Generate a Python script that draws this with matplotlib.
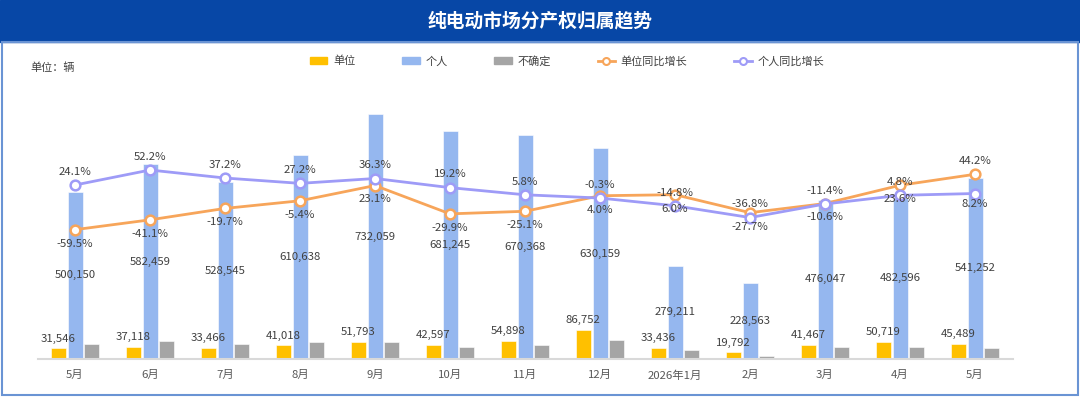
import matplotlib.pyplot as plt
import numpy as np
from matplotlib.patches import Rectangle, Patch
from matplotlib.lines import Line2D

plt.rcParams['font.family'] = ['Noto Sans CJK SC', 'DejaVu Sans']

# data
months = ['5月', '6月', '7月', '8月', '9月', '10月', '11月', '12月', '2026年1月', '2月', '3月', '4月', '5月']
unit = [31546, 37118, 33466, 41018, 51793, 42597, 54898, 86752, 33436, 19792, 41467, 50719, 45489]
personal = [500150, 582459, 528545, 610638, 732059, 681245, 670368, 630159, 279211, 228563, 476047, 482596, 541252]
uncertain = [44000, 54000, 45000, 50000, 52000, 37000, 42000, 57000, 28000, 9000, 37000, 36000, 34000]
unit_yoy = [-59.5, -41.1, -19.7, -5.4, 23.1, -29.9, -25.1, 4.0, 6.0, -27.7, -10.6, 23.6, 44.2]
personal_yoy = [24.1, 52.2, 37.2, 27.2, 36.3, 19.2, 5.8, -0.3, -14.8, -36.8, -11.4, 4.8, 8.2]

c_unit = '#FFC000'
c_pers = '#95B7EF'
c_unc = '#A5A5A5'
c_uyoy = '#F7A55A'
c_pyoy = '#9E9BF7'
txt = '#404040'

fig = plt.figure(figsize=(10.8, 3.97), dpi=100)

# header band and frame
fig.patches.append(Rectangle((0, 1 - 42 / 397), 1, 42 / 397, transform=fig.transFigure,
                             color='#0747A6', zorder=0))
fig.patches.append(Rectangle((1.5 / 1080, 2 / 397), 1076 / 1080, 353 / 397, transform=fig.transFigure,
                             fill=False, edgecolor='#6A94D4', linewidth=1.5, zorder=0))
fig.text(0.5, 1 - 21 / 397, '纯电动市场分产权归属趋势', ha='center', va='center',
         color='white', fontsize=13.5, fontweight='bold')
fig.text(30 / 1080, 1 - 68 / 397, '单位：辆', ha='left', va='center', color=txt, fontsize=8)

ax = fig.add_axes([37.5 / 1080, 38 / 397, 975 / 1080, 259 / 397])
x = np.arange(len(months))
w = 0.2
off = 0.222
ax.bar(x - off, unit, w, color=c_unit, edgecolor='white', linewidth=0.4)
ax.bar(x, personal, w, color=c_pers, edgecolor='white', linewidth=0.4)
ax.bar(x + off, uncertain, w, color=c_unc, edgecolor='white', linewidth=0.4)
ax.set_xlim(-0.5, 12.5)
ax.set_ylim(0, 774000)
ax.set_yticks([])
ax.set_xticks(x)
ax.set_xticklabels(months, fontsize=8.2, color='#595959')
ax.tick_params(axis='x', length=0, pad=8)
for s in ['top', 'left', 'right']:
    ax.spines[s].set_visible(False)
ax.spines['bottom'].set_color('#D9D9D9')
ax.spines['bottom'].set_linewidth(1.5)

for i in range(len(months)):
    ax.annotate(f'{unit[i]:,}', (x[i] - off, unit[i]), xytext=(0, 7), textcoords='offset points',
                ha='center', va='center', fontsize=8.2, color=txt)
    ax.text(x[i], personal[i] / 2, f'{personal[i]:,}', ha='center', va='center',
            fontsize=8.2, color=txt)

ax2 = ax.twinx()
ax2.set_ylim(-301.7, 183.3)
ax2.axis('off')
ax2.plot(x, unit_yoy, color=c_uyoy, linewidth=2, marker='o', markersize=7,
         markerfacecolor='white', markeredgecolor=c_uyoy, markeredgewidth=1.8)
ax2.plot(x, personal_yoy, color=c_pyoy, linewidth=2, marker='o', markersize=7,
         markerfacecolor='white', markeredgecolor=c_pyoy, markeredgewidth=1.8)

last = len(months) - 1
for i in range(len(months)):
    du = 9.5 if i == last else -10
    dp = -7.5 if i == last else 9.5
    ax2.annotate(f'{unit_yoy[i]:.1f}%', (x[i], unit_yoy[i]), xytext=(0, du), textcoords='offset points',
                 ha='center', va='center', fontsize=8.2, color=txt)
    ax2.annotate(f'{personal_yoy[i]:.1f}%', (x[i], personal_yoy[i]), xytext=(0, dp), textcoords='offset points',
                 ha='center', va='center', fontsize=8.2, color=txt)

handles = [
    Patch(color=c_unit, label='单位'),
    Patch(color=c_pers, label='个人'),
    Patch(color=c_unc, label='不确定'),
    Line2D([], [], color=c_uyoy, linewidth=2, marker='o', markersize=5, markerfacecolor='white',
           markeredgecolor=c_uyoy, markeredgewidth=1.5, label='单位同比增长'),
    Line2D([], [], color=c_pyoy, linewidth=2, marker='o', markersize=5, markerfacecolor='white',
           markeredgecolor=c_pyoy, markeredgewidth=1.5, label='个人同比增长'),
]
leg = fig.legend(handles=handles, ncol=5, loc='center', bbox_to_anchor=(567 / 1080, 1 - 61 / 397),
                 frameon=False, fontsize=8, handlelength=1.6, handleheight=0.6, handletextpad=0.5,
                 columnspacing=4.2)
for t in leg.get_texts():
    t.set_color(txt)

fig.savefig('out.png', dpi=100)
